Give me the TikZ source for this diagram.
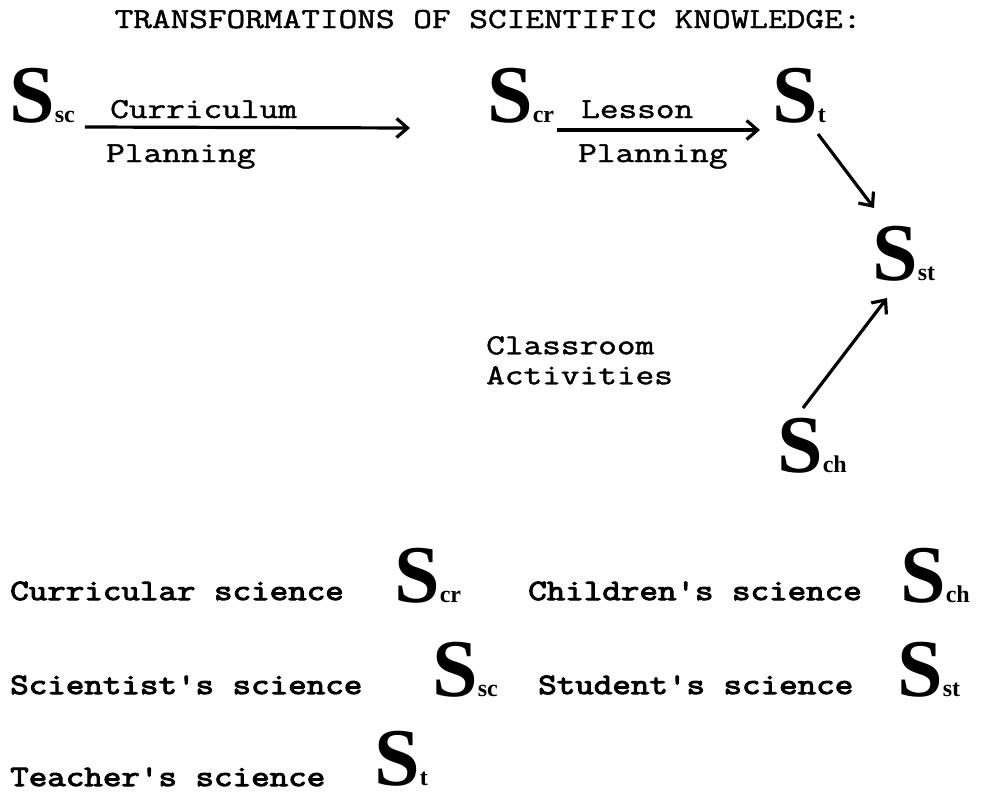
\documentclass[tikz,border=0pt]{standalone}
\usepackage{fontspec}
\setmainfont{Liberation Serif}
\newfontfamily\typew{Latin Modern Mono}[FakeStretch=1.25, FakeBold=1.5]
\newfontfamily\typeb{Latin Modern Mono}[FakeStretch=1.22, FakeBold=3.5]
\usetikzlibrary{arrows.meta,calc}
\newcommand\SymS[1]{{\fontsize{82}{82}\selectfont\bfseries S}{\fontsize{24}{24}\selectfont\bfseries #1}}
\tikzset{
  mono/.style={font=\fontsize{29}{32}\selectfont\typew, inner sep=0pt, anchor=base west},
  bmono/.style={font=\fontsize{29.5}{32}\selectfont\typeb, inner sep=0pt, anchor=base west},
  sym/.style={inner sep=0pt, anchor=base west},
  arr/.style={line width=3.2pt, -{Straight Barb[length=11pt,width=19pt,line width=3.2pt]}}
}
\begin{document}
\begin{tikzpicture}[x=1pt,y=-1pt]
\useasboundingbox (0,0) rectangle (991,795);
% title
\node[mono, anchor=base] (title) at (488,28) {TRANSFORMATIONS OF SCIENTIFIC KNOWLEDGE:};
% diagram symbols
\node[sym] (ssc) at (9,122) {\SymS{sc}};
\node[sym] (scr) at (487,122) {\SymS{cr}};
\node[sym] (st)  at (772,122) {\SymS{t}};
\node[sym] (sst) at (872,280) {\SymS{st}};
\node[sym] (sch) at (777,472) {\SymS{ch}};
% labels
\node[mono] (lcur) at (110,118) {Curriculum};
\node[mono] (lpl1) at (106,162) {Planning};
\node[mono] (lles) at (581,118) {Lesson};
\node[mono] (lpl2) at (578,162) {Planning};
\node[mono, align=left, anchor=north west] (lcls) at (486,336) {Classroom\\[-2pt]Activities};
% arrows
\draw[arr] ($(ssc.base east)+(10,5)$) -- ($(scr.base west)+(-77,6)$);
\draw[arr] ($(scr.base east)+(3,8)$) -- ($(st.base west)+(-12,8)$);
\draw[arr] ($(st.base west)+(46,12)$) -- ($(sst.base west)+(2,-72)$);
\draw[arr] ($(sch.base west)+(26,-64)$) -- ($(sst.base west)+(15,18)$);
% legend
\node[bmono] (k1) at (10,600) {Curricular science};
\node[sym] (k1s) at (394,602) {\SymS{cr}};
\node[bmono] (k2) at (528,600) {Children's science};
\node[sym] (k2s) at (900,602) {\SymS{ch}};
\node[bmono] (k3) at (10,694) {Scientist's science};
\node[sym] (k3s) at (432,696) {\SymS{sc}};
\node[bmono] (k4) at (538,694) {Student's science};
\node[sym] (k4s) at (897,696) {\SymS{st}};
\node[bmono] (k5) at (10,786) {Teacher's science};
\node[sym] (k5s) at (374,785) {\SymS{t}};
\end{tikzpicture}
\end{document}
